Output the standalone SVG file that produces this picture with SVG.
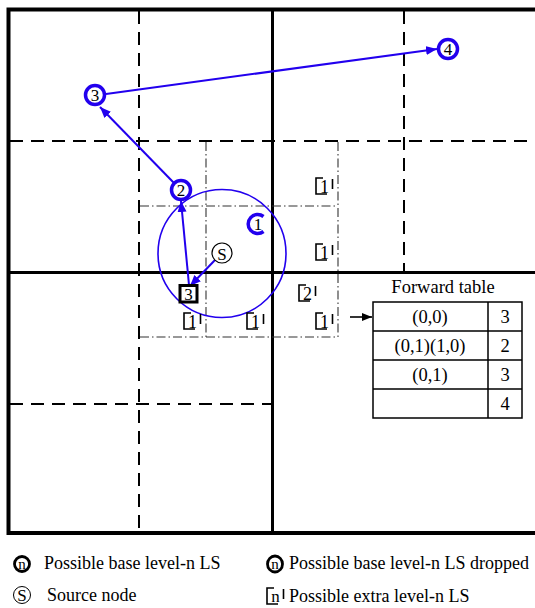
<svg xmlns="http://www.w3.org/2000/svg" width="535" height="608" viewBox="0 0 535 608" font-family="'Liberation Serif', 'Times New Roman', serif">
<style>
text{font-family:'Liberation Serif','Times New Roman',serif;fill:#000}
.nt{font-size:17px;text-anchor:middle}
.xt{font-size:18px;text-anchor:middle}
.tt{font-size:18px}
.tc{font-size:18.5px;text-anchor:middle}
.thick{stroke:#000;fill:none}
.dash{stroke:#000;stroke-width:2;stroke-dasharray:13 8;fill:none}
.dd{stroke:#333;stroke-width:1.1;stroke-dasharray:9 3 1.5 3;fill:none}
.bn{fill:#fff;stroke:#2200ee;stroke-width:3.5}
.arr{stroke:#2200ee;stroke-width:2;fill:none;marker-end:url(#ah)}
.xl{stroke:#000;stroke-width:1.6;fill:none}
</style>
<defs>
<marker id="ah" markerUnits="userSpaceOnUse" markerWidth="12" markerHeight="10" refX="11" refY="4.5" orient="auto">
<path d="M0,0 L11,4.5 L0,9 z" fill="#2200ee"/>
</marker>
<marker id="ahk" markerUnits="userSpaceOnUse" markerWidth="12" markerHeight="10" refX="10" refY="4" orient="auto">
<path d="M0,0 L10,4 L0,8 z" fill="#000"/>
</marker>
<g id="xm">
<path d="M7,0 H0 V16 H11 M16.5,1 V11" class="xl"/>
</g>
</defs>
<rect width="535" height="608" fill="#fff"/>
<g id="grid">
<path class="thick" stroke-width="4" d="M540 9.5 H8.5 V533 H540"/>
<path class="thick" stroke-width="3" d="M272.5 9.5 V533 M8.5 272.5 H540"/>
<path class="dash" d="M139 11 V531 M404 11 V271 M10 141 H535 M10 404 H271"/>
<path class="dd" d="M206 142 V337 M338 142 V337 M140 206 H338 M140 337 H338"/>
</g>
<g id="range">
<circle cx="222" cy="253.5" r="64" fill="none" stroke="#2200ee" stroke-width="1.6"/>
</g>
<g id="connectors">
<line class="arr" x1="215" y1="260" x2="190" y2="286"/>
<line class="arr" x1="189" y1="285" x2="181" y2="201"/>
<line class="arr" x1="174" y1="183" x2="100" y2="107"/>
<line class="arr" x1="106" y1="94" x2="437" y2="49"/>
<line x1="350" y1="317" x2="372" y2="317" stroke="#000" stroke-width="1.6" marker-end="url(#ahk)"/>
</g>
<g id="node4"><circle class="bn" cx="448" cy="49" r="9.5"/><text class="nt" x="448" y="55">4</text></g>
<g id="node3a"><circle class="bn" cx="95" cy="95" r="9.5"/><text class="nt" x="95" y="101">3</text></g>
<g id="node2"><circle class="bn" cx="181" cy="190" r="9.5"/><text class="nt" x="181" y="196">2</text></g>
<g id="node1"><path d="M263.5 216.5 A9.5 9.5 0 1 0 263.5 231.5" fill="none" stroke="#2200ee" stroke-width="3.5"/><text class="nt" x="258" y="230">1</text></g>
<g id="nodeS"><circle cx="222" cy="253" r="10" fill="#fff" stroke="#000" stroke-width="1.2"/><text class="nt" font-size="18" x="222" y="259.5">S</text></g>
<g id="node3b"><rect x="180" y="285.5" width="17" height="16.5" fill="#fff" stroke="#000" stroke-width="3"/><text class="nt" x="188.5" y="299.5">3</text></g>
<g id="extra1"><use href="#xm" x="316" y="178"/><text class="xt" x="324.5" y="193">1</text></g>
<g id="extra2"><use href="#xm" x="316" y="244"/><text class="xt" x="324.5" y="259">1</text></g>
<g id="extra3"><use href="#xm" x="299" y="285"/><text class="xt" x="307.5" y="300">2</text></g>
<g id="extra4"><use href="#xm" x="316" y="313"/><text class="xt" x="324.5" y="328">1</text></g>
<g id="extra5"><use href="#xm" x="184" y="313"/><text class="xt" x="192.5" y="328">1</text></g>
<g id="extra6"><use href="#xm" x="247" y="313"/><text class="xt" x="255.5" y="328">1</text></g>
<g id="table">
<text class="tc" font-size="19" x="443" y="293">Forward table</text>
<rect x="373" y="302" width="149" height="116" fill="#fff" stroke="#000" stroke-width="1.5"/>
<path d="M488 302 V418 M373 331 H522 M373 360 H522 M373 389 H522" stroke="#000" stroke-width="1.5" fill="none"/>
<text class="tc" x="430" y="323">(0,0)</text><text class="tc" x="505" y="323">3</text>
<text class="tc" x="430" y="352">(0,1)(1,0)</text><text class="tc" x="505" y="352">2</text>
<text class="tc" x="430" y="381">(0,1)</text><text class="tc" x="505" y="381">3</text>
<text class="tc" x="505" y="410">4</text>
</g>
<g id="legend">
<circle cx="22" cy="564" r="7.5" fill="#fff" stroke="#000" stroke-width="2.8"/><text font-size="15" text-anchor="middle" x="22" y="568.5">n</text>
<text class="tt" x="44" y="569">Possible base level-n LS</text>
<ellipse cx="275" cy="564" rx="7.5" ry="8" fill="#fff" stroke="#000" stroke-width="2.8"/><text font-size="15" text-anchor="middle" x="275" y="568.5">n</text>
<text class="tt" x="289" y="569">Possible base level-n LS dropped</text>
<circle cx="22" cy="595" r="8.5" fill="#fff" stroke="#000" stroke-width="1"/><text font-size="17" text-anchor="middle" x="22" y="601">S</text>
<text class="tt" x="47" y="601">Source node</text>
<use href="#xm" x="267" y="588"/><text font-size="17" text-anchor="middle" x="275.5" y="602">n</text>
<text class="tt" x="289" y="602">Possible extra level-n LS</text>
</g>
</svg>
